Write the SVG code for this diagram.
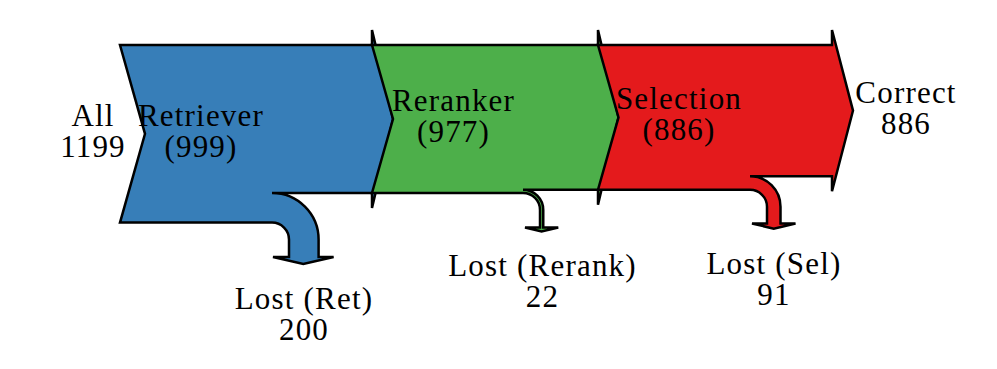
<svg xmlns="http://www.w3.org/2000/svg" width="997" height="369" viewBox="0 0 997 369">
<style>
.flow{stroke:#000;stroke-width:2.5;stroke-linejoin:miter}
.ret{fill:#377eb8}
.rer{fill:#4daf4a}
.sel{fill:#e41a1c}
text{font-family:"Liberation Serif","Times New Roman",serif;font-size:31px;letter-spacing:1.2px;fill:#000;text-anchor:middle}
</style>
<rect width="997" height="369" fill="#fff"/>
<g id="retriever">
<path class="flow ret" d="M120,45 L372,45 L372,30 L393,119 L372,208 L372,193 L272,193 A46.6,46.6 0 0 1 318.6,239.6 L318.6,257 L333.6,257 L303.3,264 L273,257 L289,257 L289,239.6 A17,17 0 0 0 272,222.6 L120,222.6 L145,133.8 Z"/>
<text x="201" y="125.5">Retriever</text>
<text x="201" y="156.7">(999)</text>
</g>
<g id="reranker">
<path class="flow rer" d="M372,45 L598,45 L598,30 L618.5,117.4 L598,204.7 L598,189.7 L523,189.7 A20.26,20.26 0 0 1 543.26,209.96 L543.26,227.5 L558.26,227.5 L541.6,231.4 L525,227.5 L540,227.5 L540,209.96 A17,17 0 0 0 523,192.96 L372,193 L393,119 Z"/>
<text x="453.5" y="110.7">Reranker</text>
<text x="453.5" y="142">(977)</text>
</g>
<g id="selection">
<path class="flow sel" d="M598,45 L832,45 L832,30 L853,110.6 L832,191.3 L832,176.3 L750,176.3 A30.5,30.5 0 0 1 780.5,206.8 L780.5,223.5 L795.5,223.5 L773.75,228.6 L752,223.5 L767,223.5 L767,206.8 A17,17 0 0 0 750,189.8 L598,189.7 L618.5,117.4 Z"/>
<text x="679" y="109">Selection</text>
<text x="679" y="140.4">(886)</text>
</g>
<g id="all">
<text x="93" y="126">All</text>
<text x="93" y="156.7">1199</text>
</g>
<g id="correct">
<text x="906" y="102.5">Correct</text>
<text x="906" y="133.6">886</text>
</g>
<g id="lost-ret">
<text x="304" y="308.7">Lost (Ret)</text>
<text x="304" y="339.7">200</text>
</g>
<g id="lost-rerank">
<text x="542.5" y="275.7">Lost (Rerank)</text>
<text x="542.5" y="306.7">22</text>
</g>
<g id="lost-sel">
<text x="774" y="274">Lost (Sel)</text>
<text x="774" y="305">91</text>
</g>
<g id="connectors"></g>
</svg>
